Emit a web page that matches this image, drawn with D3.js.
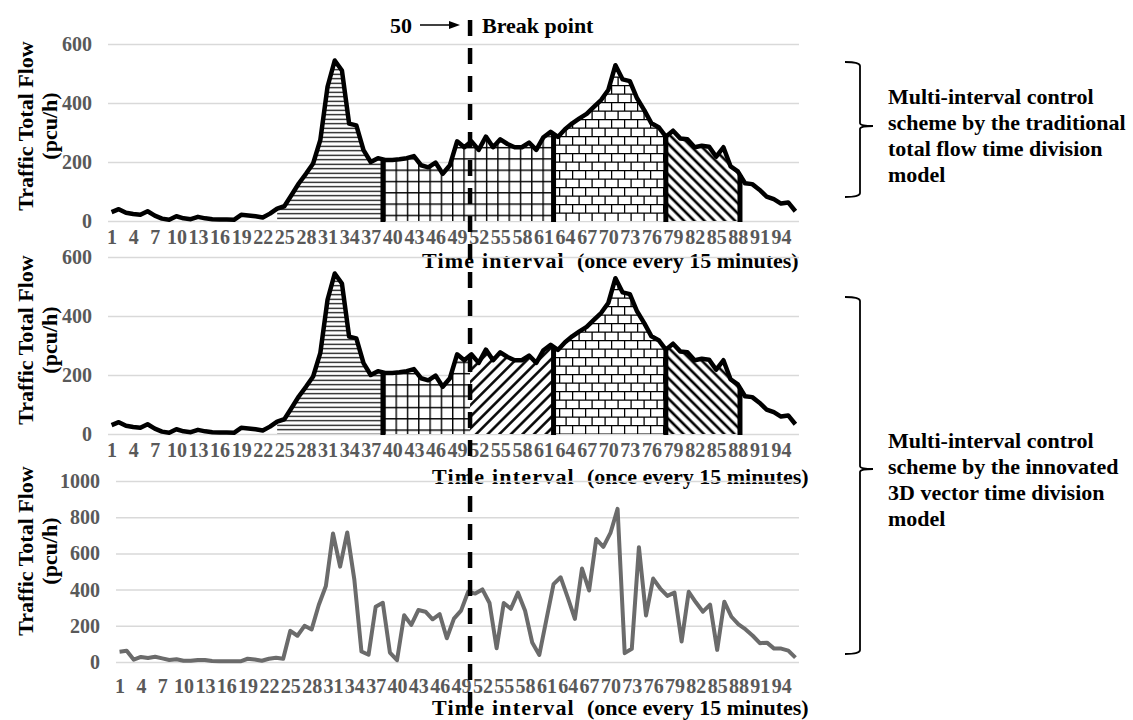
<!DOCTYPE html>
<html>
<head>
<meta charset="utf-8">
<script src="https://cdn.jsdelivr.net/npm/d3@7"></script>
<style>
body { margin: 0; background: #fff; }
text { font-family: "Liberation Serif", "Times New Roman", serif; font-weight: bold; }
</style>
</head>
<body>
<div id="chart"></div>
<script>
// 96 intervals of 15 minutes
const intervals = d3.range(1, 97);
const xTickLabels = [1, 4, 7, 10, 13, 16, 19, 22, 25, 28, 31, 34, 37, 40, 43, 46, 49, 52, 55, 58, 61, 64, 67, 70, 73, 76, 79, 82, 85, 88, 91, 94];
const flowTicks = [0, 200, 400, 600];
const vectorTicks = [0, 200, 400, 600, 800, 1000];

// traffic total flow (pcu/h)
const totalFlow = [30, 40, 28, 24, 21, 33, 18, 8, 4, 16,
    9, 6, 14, 9, 6, 5, 5, 4, 21, 19,
    16, 12, 25, 42, 50, 88, 127, 160, 195, 275,
    455, 544, 510, 330, 324, 240, 200, 213, 207, 207,
    209, 213, 220, 189, 182, 198, 160, 189, 270, 250,
    270, 241, 286, 250, 277, 261, 250, 250, 266, 241,
    284, 302, 285, 311, 331, 348, 363, 387, 410, 444,
    528, 480, 474, 416, 376, 331, 318, 286, 306, 280,
    277, 250, 255, 252, 218, 250, 185, 168, 128, 125,
    106, 83, 74, 59, 63, 33];

// 3D vector flow (pcu/h)
const vectorFlow = [57, 62, 13, 28, 22, 29, 20, 11, 15, 7,
    7, 11, 11, 5, 4, 4, 4, 4, 18, 14,
    7, 18, 24, 18, 172, 145, 200, 180, 315, 420,
    710, 527, 716, 455, 58, 40, 305, 327, 52, 10,
    258, 205, 287, 278, 236, 264, 131, 240, 284, 388,
    378, 401, 326, 76, 326, 294, 383, 283, 108, 39,
    236, 430, 468, 356, 238, 516, 395, 679, 636, 713,
    846, 49, 73, 634, 257, 461, 406, 365, 383, 113,
    388, 330, 278, 317, 67, 333, 250, 208, 180, 145,
    104, 107, 74, 74, 63, 24];

// time division periods (interval positions, fractional where a cut falls between intervals)
const traditionalFrom = [24, 38.7, 62.4, 78];
const traditionalTo = [38.7, 62.4, 78, 88.3];
const traditionalPatterns = ['hlines', 'grid', 'brick', 'diagBack'];
const traditionalCuts = [38.7, 62.4, 78, 88.3];

const innovatedFrom = [24, 38.7, 50.8, 62.4, 78];
const innovatedTo = [38.7, 50.8, 62.4, 78, 88.3];
const innovatedPatterns = ['hlines', 'grid', 'diagFwd', 'brick', 'diagBack'];
const innovatedCuts = [38.7, 62.4, 78, 88.3];

const breakPoint = 50;
const breakPos = 50.8;

const yTitle = ['Traffic Total Flow', '(pcu/h)'];
const xTitle = ['Time interval', '(once every 15 minutes)'];
const noteTraditional = ['Multi-interval control', 'scheme by the traditional', 'total flow time division', 'model'];
const noteInnovated = ['Multi-interval control', 'scheme by the innovated', '3D vector time division', 'model'];

const width = 1133,
    height = 720;

const svg = d3.select('#chart').append('svg')
    .attr('width', width)
    .attr('height', height);

svg.append('rect').attr('width', width).attr('height', height).attr('fill', '#fff');

//fill patterns
const defs = svg.append('defs');

function addPattern(id, w, h, d, sw, transform) {
    const p = defs.append('pattern')
        .attr('id', id)
        .attr('patternUnits', 'userSpaceOnUse')
        .attr('width', w)
        .attr('height', h);
    if (transform) p.attr('patternTransform', transform);
    p.append('rect').attr('width', w).attr('height', h).attr('fill', '#fff');
    p.append('path').attr('d', d).attr('stroke', '#000').attr('stroke-width', sw).attr('fill', 'none');
}
addPattern('hlines', 10, 4.5, 'M0,2.25H10', 1.2);
addPattern('grid', 11.3, 11.3, 'M0,0.7H11.3M0.7,0V11.3', 1.4);
addPattern('brick', 13, 17, 'M0,0.6H13M0,9.1H13M0.6,0V8.5M7.1,8.5V17', 1.3);
addPattern('diagBack', 7.2, 10, 'M3.6,0V10', 2.6, 'rotate(-45)');
addPattern('diagFwd', 8.2, 10, 'M4.1,0V10', 2.5, 'rotate(45)');

function valueAt(series, pos) {
    const i0 = Math.floor(pos),
        i1 = Math.ceil(pos),
        t = pos - i0;
    return series[i0 - 1] * (1 - t) + series[i1 - 1] * t;
}

function segmentPoints(series, from, to) {
    const pts = [{ i: from, v: valueAt(series, from) }];
    for (let k = Math.floor(from) + 1; k < to; k++) {
        pts.push({ i: k, v: series[k - 1] });
    }
    pts.push({ i: to, v: valueAt(series, to) });
    return pts;
}

function drawPanel(cfg) {
    const x = d3.scaleLinear().domain([0.5, 96.5]).range([cfg.left, cfg.right]);
    const y = d3.scaleLinear().domain([0, cfg.max]).range([cfg.bottom, cfg.top]);
    const g = svg.append('g');

    // gridlines + y labels
    const yAxis = d3.axisLeft(y)
        .tickValues(cfg.ticks)
        .tickFormat(d3.format('d'))
        .tickSize(-(cfg.right - cfg.left))
        .tickPadding(16);
    const gy = g.append('g').attr('transform', 'translate(' + cfg.left + ',0)').call(yAxis);
    gy.select('.domain').remove();
    gy.selectAll('.tick line').attr('stroke', '#d9d9d9').attr('stroke-width', 1.5);
    gy.selectAll('.tick text').attr('font-size', 20).attr('fill', '#595959');

    // x labels
    const xAxis = d3.axisBottom(x)
        .tickValues(xTickLabels)
        .tickSize(0)
        .tickPadding(cfg.labelGap);
    const gx = g.append('g').attr('transform', 'translate(0,' + cfg.bottom + ')').call(xAxis);
    gx.select('.domain').remove();
    gx.selectAll('.tick text').attr('font-size', 20).attr('fill', '#595959');

    // patterned periods
    if (cfg.from) {
        const area = d3.area()
            .x(d => x(d.i))
            .y0(y(0))
            .y1(d => y(d.v));
        for (let s = 0; s < cfg.from.length; s++) {
            g.append('path')
                .attr('d', area(segmentPoints(cfg.series, cfg.from[s], cfg.to[s])))
                .attr('fill', 'url(#' + cfg.patterns[s] + ')');
        }
        g.selectAll('line.cut')
            .data(cfg.cuts)
            .enter()
            .append('line')
            .attr('class', 'cut')
            .attr('x1', d => x(d)).attr('x2', d => x(d))
            .attr('y1', y(0) + 1).attr('y2', d => y(valueAt(cfg.series, d)))
            .attr('stroke', '#000')
            .attr('stroke-width', 5);
    }

    const line = d3.line()
        .x((d, i) => x(intervals[i]))
        .y(d => y(d));
    g.append('path')
        .attr('d', line(cfg.series))
        .attr('fill', 'none')
        .attr('stroke', cfg.color)
        .attr('stroke-width', cfg.lineWidth)
        .attr('stroke-linejoin', 'round');

    // axis titles
    const t = g.append('text')
        .attr('transform', 'translate(33,' + cfg.titleY + ') rotate(-90)')
        .attr('text-anchor', 'middle')
        .attr('font-size', 22)
        .attr('fill', '#000');
    t.append('tspan').attr('x', 0).attr('y', 0).text(yTitle[0]);
    t.append('tspan').attr('x', 0).attr('y', 24).text(yTitle[1]);

    const xt = g.append('text')
        .attr('x', cfg.xTitleX)
        .attr('y', cfg.xTitleY)
        .attr('font-size', 22)
        .attr('fill', '#000');
    xt.append('tspan').attr('letter-spacing', 1.2).text(xTitle[0]);
    xt.append('tspan').attr('dx', 12).attr('letter-spacing', 0).text(xTitle[1]);

    return x;
}

const xTop = drawPanel({
    left: 108, right: 799, top: 44, bottom: 221, max: 600, ticks: flowTicks, labelGap: 8.4,
    series: totalFlow, color: '#000', lineWidth: 4.5,
    from: traditionalFrom, to: traditionalTo, patterns: traditionalPatterns, cuts: traditionalCuts,
    titleY: 126, xTitleX: 422, xTitleY: 268
});

drawPanel({
    left: 108, right: 799, top: 257, bottom: 434, max: 600, ticks: flowTicks, labelGap: 8.4,
    series: totalFlow, color: '#000', lineWidth: 4.5,
    from: innovatedFrom, to: innovatedTo, patterns: innovatedPatterns, cuts: innovatedCuts,
    titleY: 340, xTitleX: 432, xTitleY: 484
});

drawPanel({
    left: 116, right: 799, top: 481, bottom: 662, max: 1000, ticks: vectorTicks, labelGap: 17,
    series: vectorFlow, color: '#6b6b6b', lineWidth: 4,
    titleY: 551, xTitleX: 432, xTitleY: 715
});

// break point
const bx = xTop(breakPos);
svg.append('line')
    .attr('x1', bx).attr('x2', bx)
    .attr('y1', 20).attr('y2', 718)
    .attr('stroke', '#000')
    .attr('stroke-width', 4.5)
    .attr('stroke-dasharray', '16,12');

svg.append('text').attr('x', 390).attr('y', 33).attr('font-size', 22).text(breakPoint);
svg.append('line')
    .attr('x1', 420).attr('x2', 450)
    .attr('y1', 25).attr('y2', 25)
    .attr('stroke', '#000').attr('stroke-width', 1.5);
svg.append('path').attr('d', 'M449,21L460,25L449,29Z').attr('fill', '#000');
svg.append('text').attr('x', 482).attr('y', 33).attr('font-size', 22).text('Break point');

// braces + notes
function brace(top, bottom, mid) {
    const p = d3.path();
    p.moveTo(845, top);
    p.quadraticCurveTo(860, top, 860, top + 4);
    p.lineTo(860, mid - 3);
    p.quadraticCurveTo(860, mid, 873, mid);
    p.moveTo(873, mid);
    p.quadraticCurveTo(860, mid, 860, mid + 3);
    p.lineTo(860, bottom - 4);
    p.quadraticCurveTo(860, bottom, 845, bottom);
    svg.append('path')
        .attr('d', p.toString())
        .attr('fill', 'none')
        .attr('stroke', '#000')
        .attr('stroke-width', 1.8);
}

function note(lines, x, y0) {
    const t = svg.append('text').attr('font-size', 22).attr('fill', '#000');
    lines.forEach((l, i) => {
        t.append('tspan').attr('x', x).attr('y', y0 + i * 26).text(l);
    });
}

brace(62, 197, 126);
note(noteTraditional, 888, 104);
brace(297, 654, 469);
note(noteInnovated, 888, 448);
</script>
</body>
</html>
